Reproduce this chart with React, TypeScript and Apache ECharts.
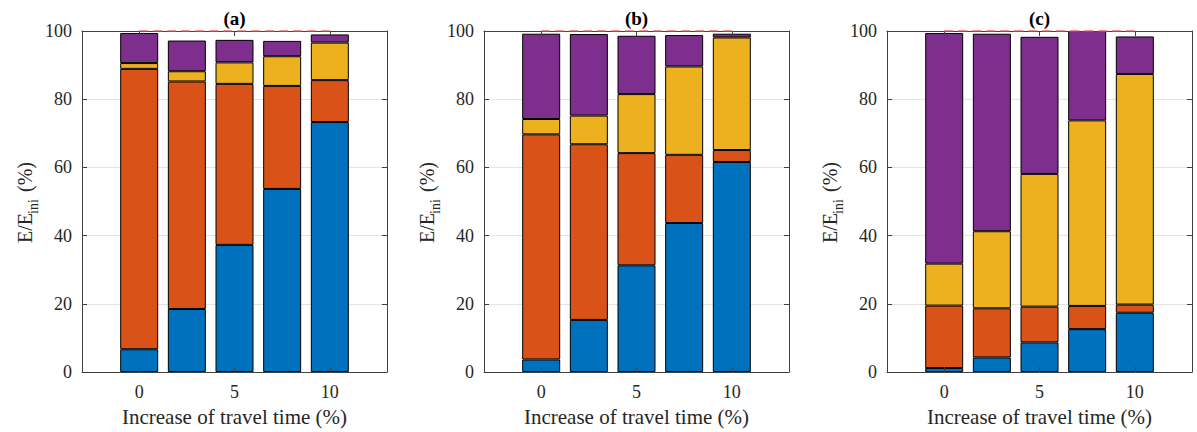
import React, { useEffect, useRef } from "react";
import * as echarts from "echarts";

const X_POS = [0, 2.5, 5, 7.5, 10];
const X_TICKS = [0, 5, 10];
const TITLES = ["(a)", "(b)", "(c)"];

const A_BLUE = [6.7, 18.5, 37.3, 53.7, 73.3];
const A_ORANGE = [82.2, 66.7, 47.2, 30.2, 12.3];
const A_YELLOW = [1.7, 3.0, 6.3, 8.7, 11.0];
const A_PURPLE = [8.8, 9.0, 6.6, 4.5, 2.4];

const B_BLUE = [3.7, 15.3, 31.3, 43.7, 61.6];
const B_ORANGE = [66.0, 51.5, 32.9, 20.0, 3.5];
const B_YELLOW = [4.5, 8.4, 17.3, 25.9, 33.0];
const B_PURPLE = [25.0, 23.9, 17.1, 9.2, 1.1];

const C_BLUE = [1.2, 4.3, 8.7, 12.6, 17.4];
const C_ORANGE = [18.3, 14.4, 10.5, 6.8, 2.4];
const C_YELLOW = [12.3, 22.6, 38.9, 54.4, 67.6];
const C_PURPLE = [67.6, 57.9, 40.2, 26.2, 11.0];

const REF_LINE = [100, 100];
const REF_X = [0, 10];

const PANELS = [
  [A_BLUE, A_ORANGE, A_YELLOW, A_PURPLE],
  [B_BLUE, B_ORANGE, B_YELLOW, B_PURPLE],
  [C_BLUE, C_ORANGE, C_YELLOW, C_PURPLE],
];

const COLORS = ["#0072BD", "#D95319", "#EDB120", "#7E2F8E"];
const FONT = "'Liberation Serif', 'DejaVu Serif', serif";
const AXIS_COLOR = "#404040";
const TEXT_COLOR = "#262626";

const GRID_LEFTS = [82, 484, 887];
const GRID_TOP = 31;
const GRID_W = 305;
const GRID_H = 343;

export default function App() {
  const ref = useRef<HTMLDivElement>(null);

  useEffect(() => {
    document.body.style.margin = "0";
    if (!ref.current) return;
    const chart = echarts.init(ref.current, null, { renderer: "svg" });

    const grid: any[] = [];
    const xAxis: any[] = [];
    const yAxis: any[] = [];
    const series: any[] = [];
    const graphic: any[] = [];

    PANELS.forEach((panel, i) => {
      grid.push({ left: GRID_LEFTS[i], top: GRID_TOP, width: GRID_W, height: GRID_H, containLabel: false });
      xAxis.push({
        gridIndex: i,
        type: "value",
        position: "bottom",
        min: -3,
        max: 13,
        z: 5,
        axisLine: { show: true, onZero: false, lineStyle: { color: AXIS_COLOR, width: 1 } },
        axisTick: { show: true, inside: true, length: 5, customValues: X_TICKS, lineStyle: { color: AXIS_COLOR } },
        axisLabel: { show: true, customValues: X_TICKS, fontSize: 18, fontFamily: FONT, color: TEXT_COLOR, margin: 11 },
        splitLine: { show: false },
        name: "Increase of travel time (%)",
        nameLocation: "middle",
        nameGap: 30,
        nameTextStyle: { fontSize: 21, fontFamily: FONT, color: TEXT_COLOR },
      });
      xAxis.push({
        gridIndex: i,
        type: "value",
        position: "top",
        min: -3,
        max: 13,
        z: 5,
        axisLine: { show: true, onZero: false, lineStyle: { color: AXIS_COLOR, width: 1 } },
        axisTick: { show: true, inside: true, length: 5, customValues: X_TICKS, lineStyle: { color: AXIS_COLOR } },
        axisLabel: { show: false },
        splitLine: { show: false },
      });
      yAxis.push({
        gridIndex: i,
        type: "value",
        position: "left",
        min: 0,
        max: 100,
        interval: 20,
        axisLine: { show: true, onZero: false, lineStyle: { color: AXIS_COLOR, width: 1 } },
        axisTick: { show: true, inside: true, length: 5, lineStyle: { color: AXIS_COLOR } },
        axisLabel: { fontSize: 18, fontFamily: FONT, color: TEXT_COLOR, margin: 10 },
        splitLine: { show: true, lineStyle: { color: "#e3e3e3", width: 1 } },
      });
      yAxis.push({
        gridIndex: i,
        type: "value",
        position: "right",
        min: 0,
        max: 100,
        interval: 20,
        axisLine: { show: true, onZero: false, lineStyle: { color: AXIS_COLOR, width: 1 } },
        axisTick: { show: true, inside: true, length: 5, lineStyle: { color: AXIS_COLOR } },
        axisLabel: { show: false },
        splitLine: { show: false },
      });

      panel.forEach((vals, k) => {
        series.push({
          type: "bar",
          xAxisIndex: 2 * i,
          yAxisIndex: 2 * i,
          stack: "p" + i,
          barWidth: 38,
          encode: { x: 1, y: 0 },
          data: X_POS.map((x, j) => [vals[j], x]),
          itemStyle: { color: COLORS[k], borderColor: "#000", borderWidth: 1 },
          z: 2,
        });
      });

      series.push({
        type: "line",
        xAxisIndex: 2 * i,
        yAxisIndex: 2 * i,
        data: REF_X.map((x, j) => [x, REF_LINE[j]]),
        symbol: "none",
        clip: false,
        lineStyle: { color: "rgba(232,80,80,0.65)", width: 2.2, type: [9, 5] },
        z: 10,
      });

      const cx = GRID_LEFTS[i] + GRID_W / 2;
      graphic.push({
        type: "text",
        x: cx,
        y: 18,
        style: {
          text: TITLES[i],
          fontSize: 19,
          fontWeight: "bold",
          fontFamily: FONT,
          fill: "#000",
          textAlign: "center",
          textVerticalAlign: "middle",
        },
      });

      const lx = GRID_LEFTS[i] - 57;
      graphic.push({
        type: "text",
        x: lx,
        y: 243,
        rotation: Math.PI / 2,
        style: {
          text: "E/E",
          fontSize: 20,
          fontFamily: FONT,
          fill: TEXT_COLOR,
          textAlign: "left",
          textVerticalAlign: "middle",
        },
      });
      graphic.push({
        type: "text",
        x: lx + 8,
        y: 214,
        rotation: Math.PI / 2,
        style: {
          text: "ini",
          fontSize: 14,
          fontFamily: FONT,
          fill: TEXT_COLOR,
          textAlign: "left",
          textVerticalAlign: "middle",
        },
      });
      graphic.push({
        type: "text",
        x: lx,
        y: 192,
        rotation: Math.PI / 2,
        style: {
          text: "(%)",
          fontSize: 20,
          fontFamily: FONT,
          fill: TEXT_COLOR,
          textAlign: "left",
          textVerticalAlign: "middle",
        },
      });
    });

    chart.setOption({
      animation: false,
      backgroundColor: "#fff",
      grid,
      xAxis,
      yAxis,
      series,
      graphic,
    });

    return () => chart.dispose();
  }, []);

  return <div ref={ref} style={{ width: 1197, height: 432 }} />;
}
